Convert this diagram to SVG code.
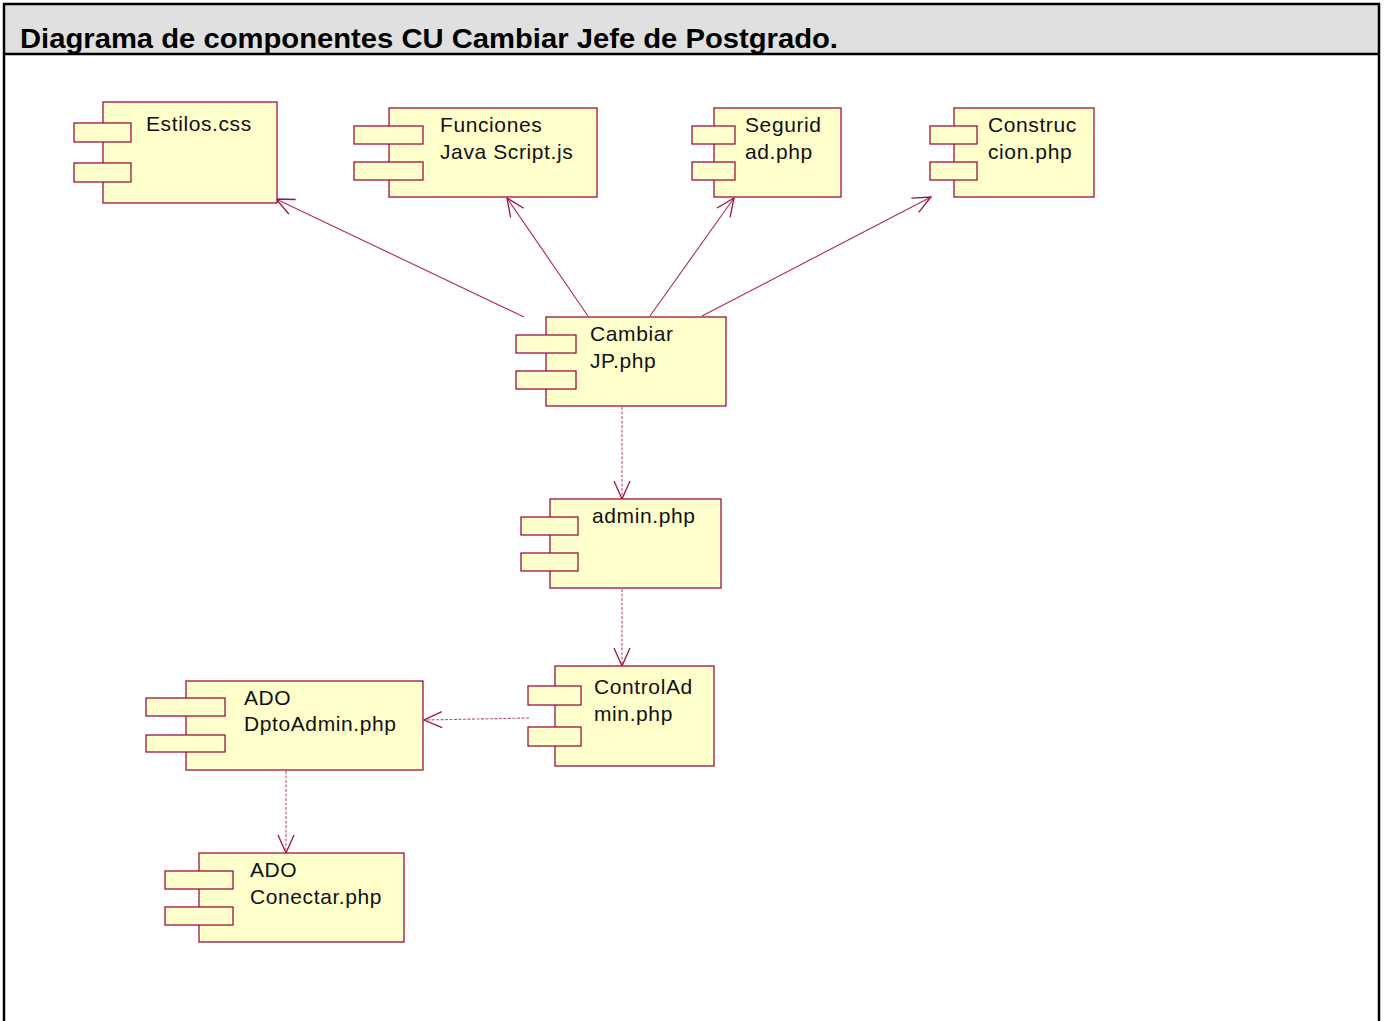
<svg xmlns="http://www.w3.org/2000/svg" width="1387" height="1021" viewBox="0 0 1387 1021">
  <style>
    .body { fill: #FFFFCC; stroke: #A01040; stroke-width: 1.3; }
    .tab { fill: #FFFFCC; stroke: #A01040; stroke-width: 1.3; }
    .lbl { font-family: "Liberation Sans", Arial, sans-serif; font-size: 21px; letter-spacing: 0.6px; fill: #111; }
    .dep { fill: none; stroke: #B02858; stroke-width: 1.1; marker-end: url(#open); }
    .dash { stroke-dasharray: 3 1.5; stroke-opacity: 0.8; }
    .title { font-family: "Liberation Sans", Arial, sans-serif; font-size: 28px; font-weight: bold; fill: #000; }
  </style>
  <defs>
    <marker id="open" markerUnits="userSpaceOnUse" markerWidth="24" markerHeight="20" viewBox="0 0 24 20" refX="21" refY="10" orient="auto">
      <path d="M3,2 L21,10 L3,18" fill="none" stroke="#A01040" stroke-width="1.3"/>
    </marker>
  </defs>

  <rect width="1387" height="1021" fill="#fff"/>

  <!-- frame with header band -->
  <g id="frame">
    <rect x="4" y="4" width="1375" height="50" fill="#E0E0E0"/>
    <path d="M4,1030 V4 H1379 V1030 M4,54 H1379" fill="none" stroke="#000" stroke-width="2.5"/>
    <text class="title" x="20" y="48" textLength="818" lengthAdjust="spacingAndGlyphs">Diagrama de componentes CU Cambiar Jefe de Postgrado.</text>
  </g>

  <!-- dependencies -->
  <g id="connectors">
    <line class="dep" x1="524" y1="317" x2="276" y2="199"/>
    <line class="dep" x1="588" y1="316" x2="507" y2="198"/>
    <line class="dep" x1="650" y1="316" x2="734" y2="198"/>
    <line class="dep" x1="702" y1="316" x2="931" y2="197"/>
    <line class="dep dash" x1="622" y1="407" x2="622" y2="499"/>
    <line class="dep dash" x1="622" y1="589" x2="622" y2="666"/>
    <line class="dep dash" x1="529" y1="718" x2="424" y2="720"/>
    <line class="dep dash" x1="286" y1="771" x2="286" y2="853"/>
  </g>

  <g id="estilos">
    <rect class="body" x="103" y="102" width="174" height="101"/>
    <rect class="tab" x="74" y="123" width="57" height="19"/>
    <rect class="tab" x="74" y="163" width="57" height="19"/>
    <text class="lbl" x="146" y="131">Estilos.css</text>
  </g>

  <g id="funciones">
    <rect class="body" x="389" y="108" width="208" height="89"/>
    <rect class="tab" x="354" y="126" width="69" height="18"/>
    <rect class="tab" x="354" y="162" width="69" height="18"/>
    <text class="lbl" x="440" y="132">Funciones</text>
    <text class="lbl" x="440" y="159">Java Script.js</text>
  </g>

  <g id="seguridad">
    <rect class="body" x="714" y="108" width="127" height="89"/>
    <rect class="tab" x="692" y="126" width="43" height="18"/>
    <rect class="tab" x="692" y="162" width="43" height="18"/>
    <text class="lbl" x="745" y="132">Segurid</text>
    <text class="lbl" x="745" y="159">ad.php</text>
  </g>

  <g id="construccion">
    <rect class="body" x="954" y="108" width="140" height="89"/>
    <rect class="tab" x="930" y="126" width="47" height="18"/>
    <rect class="tab" x="930" y="162" width="47" height="18"/>
    <text class="lbl" x="988" y="132">Construc</text>
    <text class="lbl" x="988" y="159">cion.php</text>
  </g>

  <g id="cambiarjp">
    <rect class="body" x="546" y="317" width="180" height="89"/>
    <rect class="tab" x="516" y="335" width="60" height="18"/>
    <rect class="tab" x="516" y="371" width="60" height="18"/>
    <text class="lbl" x="590" y="341">Cambiar</text>
    <text class="lbl" x="590" y="368">JP.php</text>
  </g>

  <g id="admin">
    <rect class="body" x="550" y="499" width="171" height="89"/>
    <rect class="tab" x="521" y="517" width="57" height="18"/>
    <rect class="tab" x="521" y="553" width="57" height="18"/>
    <text class="lbl" x="592" y="523">admin.php</text>
  </g>

  <g id="controladmin">
    <rect class="body" x="555" y="666" width="159" height="100"/>
    <rect class="tab" x="528" y="686" width="53" height="19"/>
    <rect class="tab" x="528" y="727" width="53" height="19"/>
    <text class="lbl" x="594" y="694">ControlAd</text>
    <text class="lbl" x="594" y="721">min.php</text>
  </g>

  <g id="dptoadmin">
    <rect class="body" x="186" y="681" width="237" height="89"/>
    <rect class="tab" x="146" y="698" width="79" height="18"/>
    <rect class="tab" x="146" y="735" width="79" height="17"/>
    <text class="lbl" x="244" y="705">ADO</text>
    <text class="lbl" x="244" y="731">DptoAdmin.php</text>
  </g>

  <g id="conectar">
    <rect class="body" x="199" y="853" width="205" height="89"/>
    <rect class="tab" x="165" y="871" width="68" height="18"/>
    <rect class="tab" x="165" y="907" width="68" height="18"/>
    <text class="lbl" x="250" y="877">ADO</text>
    <text class="lbl" x="250" y="904">Conectar.php</text>
  </g>
</svg>
